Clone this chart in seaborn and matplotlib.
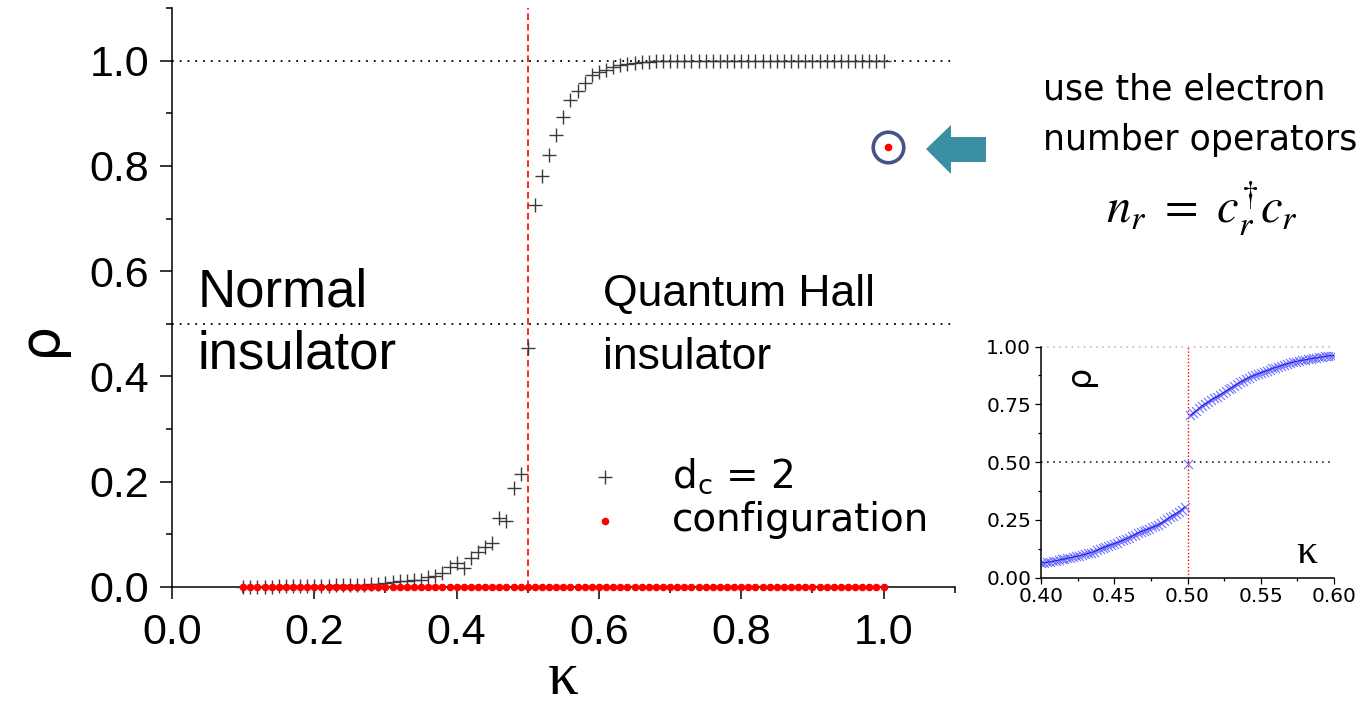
import numpy as np
import matplotlib
matplotlib.use("Agg")
import matplotlib.pyplot as plt
import seaborn as sns
from matplotlib.lines import Line2D
from matplotlib.patches import Polygon
from matplotlib.ticker import MultipleLocator, FormatStrFormatter
from matplotlib import font_manager

# ---------------- data ----------------
# main panel: kappa grid 0.10 ... 1.00 in steps of 0.01
kappa_start, kappa_stop, kappa_step = 0.10, 1.00, 0.01
kappa = np.round(np.arange(kappa_start, kappa_stop + kappa_step / 2, kappa_step), 2)

# order parameter for d_c = 2
rho_dc2 = [
    0.000, 0.000, 0.000, 0.000, 0.000, 0.001, 0.001, 0.001, 0.001, 0.001,   # 0.10-0.19
    0.002, 0.002, 0.002, 0.003, 0.003, 0.003, 0.004, 0.004, 0.005, 0.006,   # 0.20-0.29
    0.008, 0.009, 0.011, 0.011, 0.013, 0.014, 0.019, 0.021, 0.026, 0.038,   # 0.30-0.39
    0.046, 0.036, 0.056, 0.066, 0.076, 0.084, 0.131, 0.126, 0.189, 0.214,   # 0.40-0.49
    0.455, 0.725, 0.781, 0.821, 0.859, 0.892, 0.925, 0.943, 0.957, 0.973,   # 0.50-0.59
    0.978, 0.983, 0.988, 0.991, 0.994, 0.996, 0.997, 0.998, 0.999, 0.999,   # 0.60-0.69
    1.000, 0.999, 1.000, 1.000, 1.000, 0.999, 1.000, 1.000, 1.000, 1.000,   # 0.70-0.79
    1.000, 1.000, 1.000, 1.000, 1.000, 1.000, 1.000, 1.000, 1.000, 1.000,   # 0.80-0.89
    1.000, 1.000, 1.000, 1.000, 1.000, 0.999, 1.000, 1.000, 1.000, 1.000,   # 0.90-0.99
    1.000,                                                                  # 1.00
]
# configuration-based estimate: zero everywhere
rho_config = [0.0] * len(kappa)

# inset: zoom around the transition, kappa step 0.002
kappa_in_left = np.round(np.arange(0.400, 0.4985, 0.002), 3)
rho_in_left = [
    0.062, 0.064, 0.066, 0.068, 0.070, 0.073, 0.075, 0.078, 0.080, 0.083,
    0.086, 0.089, 0.091, 0.094, 0.097, 0.100, 0.104, 0.108, 0.112, 0.117,
    0.123, 0.128, 0.133, 0.138, 0.142, 0.146, 0.151, 0.156, 0.161, 0.167,
    0.173, 0.179, 0.185, 0.192, 0.198, 0.203, 0.207, 0.212, 0.217, 0.222,
    0.228, 0.235, 0.243, 0.252, 0.260, 0.268, 0.276, 0.285, 0.293, 0.306,
]
kappa_in_mid = [0.500]
rho_in_mid = [0.493]
kappa_in_right = np.round(np.arange(0.502, 0.6005, 0.002), 3)
rho_in_right = [
    0.702, 0.712, 0.722, 0.733, 0.744, 0.752, 0.760, 0.768, 0.775, 0.782,
    0.790, 0.798, 0.806, 0.814, 0.822, 0.830, 0.838, 0.845, 0.852, 0.859,
    0.865, 0.871, 0.876, 0.881, 0.886, 0.891, 0.895, 0.900, 0.905, 0.909,
    0.913, 0.917, 0.921, 0.925, 0.929, 0.932, 0.935, 0.938, 0.940, 0.942,
    0.945, 0.947, 0.949, 0.951, 0.953, 0.955, 0.957, 0.959, 0.960, 0.961,
]

main_xticks_major, main_xticks_minor = 0.2, 0.1
inset_xticks_major, inset_xticks_minor = 0.05, 0.025
inset_yticks_major, inset_yticks_minor = 0.25, 0.125

# ---------------- style ----------------
sns.set_theme(style="ticks")
plt.rcParams["font.family"] = ["Liberation Sans", "DejaVu Sans"]
plt.rcParams["axes.linewidth"] = 1.1
plt.rcParams["text.color"] = "black"
plt.rcParams["axes.labelcolor"] = "black"
plt.rcParams["xtick.color"] = "black"
plt.rcParams["ytick.color"] = "black"
plt.rcParams["xtick.labelcolor"] = "black"
plt.rcParams["ytick.labelcolor"] = "black"
plt.rcParams["axes.edgecolor"] = "black"


def has_font(name):
    try:
        font_manager.findfont(font_manager.FontProperties(family=name),
                              fallback_to_default=False)
        return True
    except ValueError:
        return False


if has_font("Liberation Sans Narrow"):
    qh_family, qh_size = "Liberation Sans Narrow", 38
else:
    qh_family, qh_size = "Liberation Sans", 32

W, H = 1365, 708
fig = plt.figure(figsize=(W / 100, H / 100), dpi=100)
fig.patch.set_facecolor("white")


def fx(px):
    return px / W


def fy(py):
    return 1 - py / H


# ---------------- main panel ----------------
ax = fig.add_axes([fx(172), fy(587), 782.7 / W, 579 / H])
ax.set_facecolor("white")
ax.set_xlim(0, 1.1)
ax.set_ylim(0, 1.1)

dots = (0, (1, 3.3))
ax.axhline(1.0, color="black", lw=1.3, ls=dots, zorder=1)
ax.axhline(0.5, color="black", lw=1.3, ls=dots, zorder=1)
ax.axvline(0.5, color="red", lw=1.2, ls=(0, (4, 2.3)), zorder=1)

sns.scatterplot(x=kappa, y=rho_dc2, marker="+", s=90, color="#3a3a3a",
                linewidth=1.0, ax=ax, zorder=3, clip_on=False,
                label=r"d$_\mathregular{c}$ = 2")
sns.scatterplot(x=kappa, y=rho_config, marker="o", s=30, color="red",
                linewidth=0, ax=ax, zorder=4, clip_on=False,
                label="configuration")

sns.despine(ax=ax)
ax.xaxis.set_major_locator(MultipleLocator(main_xticks_major))
ax.xaxis.set_minor_locator(MultipleLocator(main_xticks_minor))
ax.yaxis.set_major_locator(MultipleLocator(main_xticks_major))
ax.yaxis.set_minor_locator(MultipleLocator(main_xticks_minor))
ax.xaxis.set_major_formatter(FormatStrFormatter("%.1f"))
ax.yaxis.set_major_formatter(FormatStrFormatter("%.1f"))
ax.tick_params(which="major", direction="out", length=8.5, width=1.1,
               labelsize=31)
ax.tick_params(which="minor", direction="out", length=4, width=1.1)
ax.tick_params(axis="x", which="major", pad=10)
ax.tick_params(axis="y", which="major", pad=8)
ax.set_xlabel("")
ax.set_ylabel("")

leg = ax.legend(loc="upper left", bbox_to_anchor=(fx(585.6), fy(456)),
                bbox_transform=fig.transFigure, frameon=False,
                prop={"family": "DejaVu Sans", "size": 28},
                handlelength=1.0, handletextpad=1.22, borderpad=0,
                borderaxespad=0, labelspacing=0.15)
for t in leg.get_texts():
    t.set_color("black")

ax.text(0.0365, 0.5337, "Normal", fontsize=38, ha="left", va="baseline")
ax.text(0.0365, 0.4148, "insulator", fontsize=38, ha="left", va="baseline")
ax.text(0.6058, 0.5337, "Quantum Hall", fontsize=qh_size, family=qh_family,
        ha="left", va="baseline")
ax.text(0.6058, 0.4148, "insulator", fontsize=qh_size, family=qh_family,
        ha="left", va="baseline")

fig.text(fx(40), fy(338), "ρ", rotation=90, fontsize=40,
         family="DejaVu Sans", ha="center", va="center")
fig.text(fx(563), fy(694), "κ", fontsize=44, family="Liberation Serif",
         ha="center", va="baseline")

# ---------------- annotation ----------------
cx, cy = fx(888.3), fy(146.7)
fig.add_artist(Line2D([cx], [cy], marker="o", ms=22, mfc="none",
                      mec="#46528a", mew=2.6, transform=fig.transFigure))
fig.add_artist(Line2D([cx], [cy], marker="o", ms=5.5, mfc="red",
                      mec="none", transform=fig.transFigure))
arrow_px = [(926, 149), (951, 125), (951, 137), (986, 137),
            (986, 162), (951, 162), (951, 174)]
fig.add_artist(Polygon([(fx(x), fy(y)) for x, y in arrow_px], closed=True,
                       transform=fig.transFigure, facecolor="#3a8fa3",
                       edgecolor="none"))
fig.text(fx(1043), fy(100), "use the electron", fontsize=25,
         family="DejaVu Sans", va="baseline")
fig.text(fx(1043), fy(150), "number operators", fontsize=25,
         family="DejaVu Sans", va="baseline")
fig.text(fx(1106), fy(223), r"$n_r\ =\ c_r^{\dagger}c_r$", fontsize=35,
         math_fontfamily="stix", va="baseline")

# ---------------- inset ----------------
axin = fig.add_axes([fx(1041), fy(577.5), 293 / W, 231 / H])
axin.set_facecolor("white")
axin.set_xlim(0.4, 0.6)
axin.set_ylim(0, 1.0)
axin.axhline(1.0, color="#b5b5b5", lw=1.1, ls=(0, (1, 3)), clip_on=False)
axin.axhline(0.5, color="black", lw=1.1, ls=(0, (1, 3)))
axin.axvline(0.5, color="red", lw=1.0, ls=(0, (1, 1.5)))

blue_marker = "#6f6fff"
blue_line = "#2020e0"
for kx, ry in ((kappa_in_left, rho_in_left), (kappa_in_right, rho_in_right)):
    sns.lineplot(x=kx, y=ry, color=blue_line, lw=0.8, ax=axin, legend=False,
                 zorder=3)
sns.scatterplot(x=np.concatenate([kappa_in_left, kappa_in_mid, kappa_in_right]),
                y=np.concatenate([rho_in_left, rho_in_mid, rho_in_right]),
                marker="x", s=42, color=blue_marker, linewidth=0.8, ax=axin,
                legend=False, zorder=2)

sns.despine(ax=axin)
axin.xaxis.set_major_locator(MultipleLocator(inset_xticks_major))
axin.xaxis.set_minor_locator(MultipleLocator(inset_xticks_minor))
axin.yaxis.set_major_locator(MultipleLocator(inset_yticks_major))
axin.yaxis.set_minor_locator(MultipleLocator(inset_yticks_minor))
axin.xaxis.set_major_formatter(FormatStrFormatter("%.2f"))
axin.yaxis.set_major_formatter(FormatStrFormatter("%.2f"))
axin.tick_params(which="major", direction="out", length=4, width=0.9,
                 labelsize=14.5, pad=3)
axin.tick_params(which="minor", direction="out", length=2.5, width=0.9)
for lab in axin.get_xticklabels() + axin.get_yticklabels():
    lab.set_family("DejaVu Sans")
axin.set_xlabel("")
axin.set_ylabel("")
axin.text(0.4266, 0.877, "ρ", rotation=90, fontsize=24, family="DejaVu Sans",
          ha="center", va="center")
axin.text(0.5816, 0.106, "κ", fontsize=30, family="Liberation Serif",
          ha="center", va="center")

fig.savefig("out.png", dpi=100, facecolor="white")
